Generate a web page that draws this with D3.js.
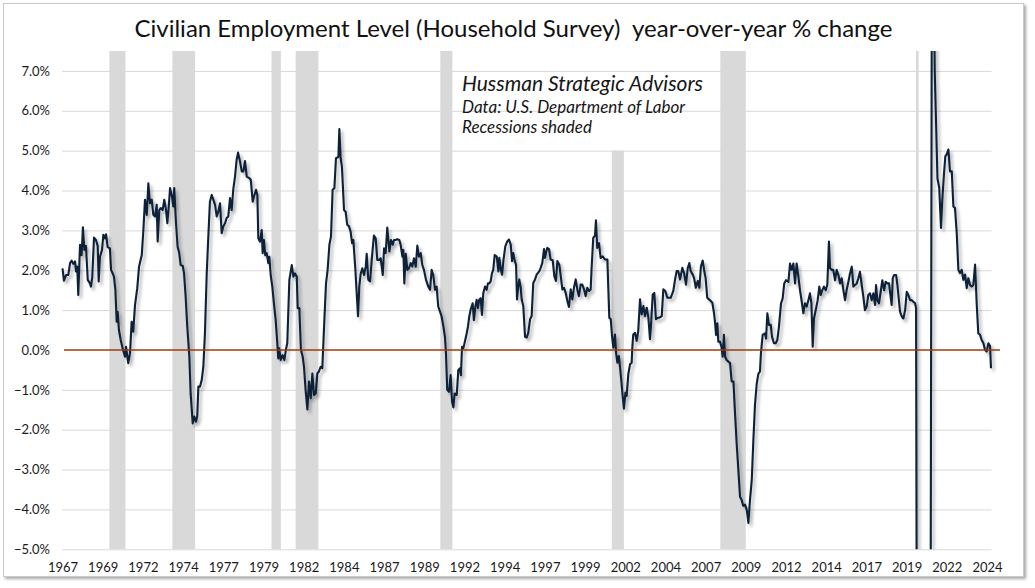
<!DOCTYPE html>
<html><head><meta charset="utf-8">
<script src="https://cdn.jsdelivr.net/npm/d3@7/dist/d3.min.js"></script>
<style>
body{margin:0;background:#fff;}
svg text{font-family:Lato,"Open Sans",sans-serif;}
</style>
</head><body>
<svg id="chart" width="1035" height="588"></svg>
<script>
// ---------- DATA ----------
const titleText = "Civilian Employment Level (Household Survey)  year-over-year % change";
const noteLines = ["Hussman Strategic Advisors", "Data: U.S. Department of Labor", "Recessions shaded"];

// decimal-year dates of the year-over-year % change series
const dates = [
1967.00,1967.09,1967.22,1967.36,1967.47,1967.57,1967.67,1967.78,1967.84,1967.92,1967.98,1968.09,1968.19,1968.27,1968.36,1968.46,1968.57,1968.71,1968.77,1968.85,1968.96,
1969.08,1969.19,1969.25,1969.33,1969.46,1969.54,1969.64,1969.71,1969.81,1969.95,1970.02,1970.12,1970.20,1970.29,1970.37,1970.43,1970.51,1970.62,1970.74,1970.89,1970.95,
1971.09,1971.20,1971.30,1971.40,1971.51,1971.65,1971.76,1971.93,1972.03,1972.13,1972.24,1972.34,1972.44,1972.55,1972.65,1972.75,1972.86,1972.92,
1973.02,1973.11,1973.23,1973.33,1973.44,1973.52,1973.61,1973.69,1973.81,1973.89,1973.95,1974.06,1974.16,1974.26,1974.35,1974.48,1974.56,1974.66,1974.76,1974.89,1974.97,
1975.10,1975.20,1975.30,1975.38,1975.45,1975.55,1975.66,1975.76,1975.86,1975.97,1976.07,1976.17,1976.28,1976.38,1976.49,1976.59,1976.69,1976.80,1976.90,
1977.00,1977.11,1977.21,1977.31,1977.42,1977.52,1977.62,1977.73,1977.83,1977.92,1978.04,1978.15,1978.25,1978.35,1978.46,1978.62,1978.71,1978.83,1978.91,
1979.04,1979.12,1979.18,1979.28,1979.39,1979.45,1979.53,1979.61,1979.70,1979.80,1979.86,1979.95,1980.05,1980.15,1980.26,1980.36,1980.42,1980.48,1980.57,1980.69,1980.80,1980.90,1980.98,
1981.11,1981.26,1981.36,1981.46,1981.57,1981.63,1981.73,1981.83,1981.94,1982.02,1982.12,1982.23,1982.33,1982.44,1982.54,1982.64,1982.75,1982.85,1982.95,
1983.06,1983.16,1983.26,1983.39,1983.49,1983.60,1983.70,1983.80,1983.91,1984.01,1984.16,1984.22,1984.30,1984.38,1984.51,1984.61,1984.71,1984.82,1984.92,
1985.01,1985.09,1985.21,1985.30,1985.38,1985.46,1985.55,1985.65,1985.75,1985.86,1985.92,1986.02,1986.13,1986.25,1986.37,1986.48,1986.58,1986.69,1986.79,1986.92,
1987.00,1987.10,1987.20,1987.33,1987.43,1987.54,1987.62,1987.72,1987.82,1987.95,1988.03,1988.14,1988.20,1988.26,1988.35,1988.45,1988.55,1988.66,1988.76,1988.86,1988.97,
1989.07,1989.17,1989.28,1989.38,1989.48,1989.61,1989.75,1989.86,1989.96,1990.06,1990.17,1990.27,1990.37,1990.48,1990.58,1990.69,1990.79,1990.85,1990.93,
1991.04,1991.14,1991.23,1991.31,1991.39,1991.52,1991.62,1991.72,1991.78,1991.85,1991.93,1992.05,1992.14,1992.22,1992.30,1992.39,1992.51,1992.59,1992.68,1992.76,1992.84,1992.92,
1993.01,1993.09,1993.17,1993.28,1993.38,1993.46,1993.55,1993.63,1993.71,1993.79,1993.88,1994.01,1994.11,1994.17,1994.26,1994.34,1994.42,1994.54,1994.67,1994.77,1994.88,1994.96,
1995.04,1995.13,1995.21,1995.27,1995.35,1995.41,1995.50,1995.56,1995.66,1995.77,1995.87,1995.97,1996.08,1996.18,1996.28,1996.39,1996.49,1996.66,1996.74,1996.84,1996.95,
1997.01,1997.07,1997.15,1997.26,1997.36,1997.49,1997.59,1997.69,1997.78,1997.90,1997.99,1998.09,1998.19,1998.30,1998.40,1998.50,1998.61,1998.71,1998.81,1998.92,
1999.02,1999.12,1999.23,1999.33,1999.44,1999.54,1999.64,1999.75,1999.85,1999.91,2000.01,2000.12,2000.18,2000.26,2000.37,2000.47,2000.60,2000.74,2000.89,2000.95,
2001.01,2001.10,2001.18,2001.26,2001.36,2001.43,2001.51,2001.60,2001.67,2001.76,2001.84,2001.92,2002.01,2002.09,2002.19,2002.30,2002.40,2002.44,2002.50,2002.61,2002.71,2002.81,2002.92,
2003.02,2003.13,2003.23,2003.34,2003.44,2003.54,2003.60,2003.71,2003.81,2003.91,2004.02,2004.12,2004.27,2004.37,2004.49,2004.62,2004.70,2004.83,2004.99,
2005.10,2005.20,2005.30,2005.41,2005.55,2005.66,2005.78,2005.89,2005.99,2006.07,2006.20,2006.28,2006.39,2006.51,2006.61,2006.71,2006.82,2006.90,
2007.00,2007.10,2007.21,2007.32,2007.42,2007.52,2007.59,2007.65,2007.73,2007.79,2007.89,2007.99,2008.06,2008.14,2008.21,2008.31,2008.41,2008.52,2008.62,2008.73,2008.83,2008.93,
2009.03,2009.14,2009.24,2009.34,2009.45,2009.56,2009.66,2009.76,2009.87,2009.97,2010.07,2010.18,2010.28,2010.38,2010.44,2010.55,2010.69,2010.76,2010.84,2010.94,
2011.05,2011.13,2011.25,2011.36,2011.46,2011.56,2011.69,2011.79,2011.89,2012.00,2012.15,2012.25,2012.35,2012.46,2012.56,2012.66,2012.77,2012.87,2012.98,
2013.08,2013.18,2013.29,2013.39,2013.49,2013.58,2013.66,2013.74,2013.87,2013.97,2014.07,2014.16,2014.26,2014.36,2014.47,2014.57,2014.67,2014.74,2014.84,2014.94,
2015.05,2015.15,2015.26,2015.36,2015.46,2015.57,2015.67,2015.77,2015.88,2015.98,2016.09,2016.19,2016.29,2016.40,2016.50,2016.60,2016.71,2016.81,2016.91,
2017.02,2017.12,2017.23,2017.33,2017.43,2017.54,2017.60,2017.68,2017.78,2017.89,2017.99,2018.10,2018.20,2018.30,2018.41,2018.47,2018.57,2018.64,2018.72,2018.85,2018.93,
2019.03,2019.09,2019.20,2019.30,2019.41,2019.51,2019.61,2019.72,2019.82,2019.92,2020.03,2020.09,2020.17,2020.25,2020.34,2020.42,2020.50,2020.59,2020.67,2020.75,2020.84,2020.92,
2021.00,2021.09,2021.17,2021.25,2021.34,2021.42,2021.53,2021.64,2021.72,2021.83,2021.91,2021.99,2022.10,2022.20,2022.31,2022.41,2022.51,2022.62,2022.72,2022.82,2022.93,
2023.03,2023.14,2023.24,2023.34,2023.45,2023.55,2023.65,2023.76,2023.86,2023.96,2024.07,2024.17,2024.28,2024.38,2024.48,2024.59,2024.69,2024.75
];

// year-over-year % change values
const yoy = [
2.05,1.74,1.88,1.88,2.18,2.24,2.16,2.22,1.97,2.09,1.38,2.64,2.38,3.08,2.51,2.61,1.76,1.67,1.59,1.82,2.82,
2.76,2.61,1.72,2.34,2.51,2.89,2.80,2.90,2.58,2.55,2.01,1.92,1.84,1.51,0.71,0.96,0.50,0.25,0.04,-0.17,0.08,
-0.33,-0.08,0.71,0.46,1.13,1.55,2.09,2.38,3.01,3.77,3.39,4.18,3.68,3.77,3.39,3.35,3.64,2.72,
3.51,3.56,3.51,3.77,3.51,3.18,3.60,4.06,3.85,3.60,4.06,3.18,2.59,2.43,2.13,2.11,1.92,1.34,0.59,-0.17,-1.09,
-1.84,-1.67,-1.80,-1.67,-0.92,-0.92,-0.75,-0.42,0.42,1.92,2.85,3.72,3.89,3.77,3.64,3.35,3.47,3.68,2.93,
3.10,3.18,3.31,3.35,3.81,3.51,4.02,4.35,4.77,4.95,4.73,4.48,4.48,4.74,4.35,4.31,4.27,3.72,3.85,
4.02,3.89,2.80,2.72,3.01,2.43,2.76,2.38,2.43,2.18,2.34,1.88,1.59,1.17,0.75,0.17,-0.21,0.04,-0.25,-0.13,-0.25,0.02,0.17,
1.76,2.13,1.84,1.92,1.84,1.05,1.05,0.00,-0.17,-0.42,-1.00,-1.49,-0.79,-1.21,-0.59,-1.13,-1.09,-0.59,-0.54,
-0.42,-0.46,0.50,1.67,2.01,2.64,2.85,4.02,4.06,4.81,4.84,5.54,4.81,4.60,3.51,3.47,3.14,3.10,2.97,
2.68,2.76,2.05,1.42,0.85,1.59,1.92,2.05,1.88,2.09,2.41,1.76,1.72,2.34,2.87,2.80,2.26,2.26,2.30,1.88,
2.55,2.43,3.07,2.47,2.76,2.64,2.76,2.76,2.78,2.76,2.64,2.34,2.51,1.67,2.41,2.01,2.05,2.18,2.09,2.30,2.09,
2.62,2.34,2.43,2.13,2.01,1.76,1.59,1.51,2.01,1.88,1.51,1.59,1.09,0.96,0.84,0.59,0.32,-0.08,-1.00,
-1.05,-0.63,-1.30,-1.44,-1.09,-1.13,-0.50,-0.46,-0.63,0.08,0.04,0.25,0.42,0.59,0.84,1.02,1.17,0.75,1.09,1.26,1.05,1.26,
1.30,0.88,1.42,1.59,1.51,1.67,1.67,1.72,1.92,2.01,2.38,2.34,1.97,2.31,2.02,1.89,2.23,2.60,2.73,2.77,2.64,2.23,
2.43,2.23,2.14,1.27,1.60,1.77,1.56,1.27,1.10,0.33,0.31,0.43,0.77,0.85,1.68,1.77,1.89,1.98,2.06,2.18,2.53,
2.31,2.43,2.56,2.53,2.27,2.25,1.85,1.73,2.23,2.14,1.85,1.52,1.56,1.43,1.23,1.08,1.52,1.27,1.56,1.77,
1.52,1.35,1.64,1.64,1.52,1.35,1.56,1.48,1.52,2.06,2.81,2.87,3.25,2.56,2.68,2.31,2.35,2.27,2.27,1.52,
0.81,0.77,0.35,0.06,0.39,-0.07,-0.32,-0.15,-0.40,-0.78,-1.15,-1.47,-1.07,-1.15,-0.61,-0.36,-0.32,0.06,0.39,0.43,0.23,0.48,1.27,
0.89,1.10,0.85,1.06,0.81,0.27,0.60,1.39,1.43,0.77,0.81,0.81,0.85,1.52,1.48,1.31,1.31,1.31,1.48,
1.77,1.98,1.98,1.77,2.06,1.93,1.64,2.06,2.18,1.98,1.89,1.81,1.56,1.73,1.56,2.10,2.24,2.02,
1.81,1.31,1.27,1.23,1.18,0.93,0.68,0.38,0.67,0.21,0.21,0.08,-0.17,0.38,-0.17,-0.25,-0.29,-0.33,-0.79,-0.79,-1.59,-2.34,
-2.97,-3.68,-3.76,-3.91,-3.88,-4.01,-4.34,-3.76,-3.26,-2.26,-1.38,-0.84,-0.60,-0.54,-0.08,0.38,0.42,0.29,0.92,0.63,
0.63,0.33,0.17,0.17,0.25,0.58,1.17,1.29,1.67,1.75,1.71,2.17,2.01,2.17,1.67,2.17,1.84,1.50,1.21,
0.92,1.17,1.09,1.25,1.42,1.17,0.08,0.79,1.04,1.25,1.59,1.38,1.50,1.59,1.50,1.63,2.72,2.05,2.01,2.01,
1.75,2.01,1.88,1.67,1.80,1.50,1.25,1.50,1.71,1.92,2.09,1.59,1.63,1.67,1.80,1.96,1.63,1.34,1.00,
1.09,1.38,1.42,1.25,1.42,1.13,1.63,1.25,1.17,1.46,1.75,1.50,1.71,1.67,1.67,1.46,1.13,1.80,1.88,1.88,1.63,
1.21,0.96,0.84,0.79,1.00,1.46,1.38,1.25,1.25,1.21,1.17,1.05,-14.8,-12.6,-9.8,-8.6,-6.4,-5.9,-5.5,-5.6,-5.7,-5.4,
-5.4,13.3,10.3,7.0,5.6,4.3,4.07,3.06,3.77,4.44,4.86,4.90,5.03,4.48,4.48,3.60,3.56,2.93,2.01,1.93,2.01,
1.76,1.89,1.55,1.80,1.63,1.59,1.63,2.14,1.17,0.42,0.38,0.25,0.17,0.00,-0.04,0.17,0.10,-0.46
];

// NBER recessions (first and last month) and the height the shading reaches
const recStart = ["1969-12","1973-11","1980-01","1981-07","1990-07","2001-03","2007-12","2020-02"];
const recEnd   = ["1970-11","1975-03","1980-07","1982-11","1991-03","2001-11","2009-06","2020-03"];
const recTop   = [7.5, 7.5, 7.5, 7.5, 7.5, 5.0, 7.5, 7.5];

const xTickLabels = ["1967","1969","1972","1974","1977","1979","1982","1984","1987","1989","1992","1994",
                     "1997","1999","2002","2004","2007","2009","2012","2014","2017","2019","2022","2024"];
const xTickStart = 1967, xTickStep = 2.5;
const yTicks = [-5,-4,-3,-2,-1,0,1,2,3,4,5,6,7];
const yDomain = [-5, 7.5];
const xDomain = [1967, 2024.75];

// ---------- DRAWING ----------
const svg = d3.select("#chart");
const L = 62.5, R = 991, T = 51, B = 549.3;
const x = d3.scaleLinear().domain(xDomain).range([L, R]);
const y = d3.scaleLinear().domain(yDomain).range([B, T]);
const ym = s => { const [a,b] = s.split("-").map(Number); return a + (b-1)/12; };

const defs = svg.append("defs");
const f1 = defs.append("filter").attr("id","frameShadow").attr("x","-5%").attr("y","-5%").attr("width","110%").attr("height","110%");
f1.append("feDropShadow").attr("dx",2).attr("dy",2).attr("stdDeviation",1.6).attr("flood-color","#000").attr("flood-opacity",0.35);
const f2 = defs.append("filter").attr("id","lineShadow").attr("x","-2%").attr("y","-5%").attr("width","104%").attr("height","110%");
f2.append("feDropShadow").attr("dx",2.5).attr("dy",3).attr("stdDeviation",1.4).attr("flood-color","#000").attr("flood-opacity",0.3);
defs.append("clipPath").attr("id","plotClip").append("rect")
  .attr("x", L - 2).attr("y", T).attr("width", 1002 - L).attr("height", B - T);

// frame
svg.append("rect").attr("x",3.5).attr("y",3.5).attr("width",1020).attr("height",573)
  .attr("fill","#fff").attr("stroke","#c9c9c9").attr("stroke-width",1).attr("filter","url(#frameShadow)");

// title
svg.append("text").attr("x",513.5).attr("y",37).attr("text-anchor","middle")
  .style("white-space","pre").attr("font-size",24).attr("fill","#111")
  .text(titleText);

// gridlines (via axis)
svg.append("g").attr("transform",`translate(${L - 0.5},0)`)
  .call(d3.axisLeft(y).tickValues(yTicks.filter(v => v !== 0)).tickSize(-(R + 1 - L)).tickFormat(""))
  .call(g => g.select(".domain").remove())
  .call(g => g.selectAll("line").attr("stroke","#d9d9d9").attr("stroke-width",1));

// recession shading
const plot = svg.append("g").attr("clip-path","url(#plotClip)");
plot.selectAll("rect.rec").data(recStart).join("rect").attr("class","rec")
  .attr("x", (d,i) => x(ym(d)))
  .attr("width", (d,i) => x(ym(recEnd[i]) + 1/12) - x(ym(d)))
  .attr("y", (d,i) => y(recTop[i]))
  .attr("height", (d,i) => y(yDomain[0]) - y(recTop[i]))
  .attr("fill","#d9d9d9");

// y labels
svg.append("g").attr("transform","translate(50,0)")
  .call(d3.axisLeft(y).tickValues(yTicks).tickSize(0).tickPadding(0).tickFormat(v => d3.format(".1f")(v) + "%"))
  .call(g => g.select(".domain").remove())
  .call(g => g.selectAll("text").attr("font-size",13).attr("fill","#1a1a1a").attr("font-family","Lato"));

// x labels
const xTickVals = xTickLabels.map((d,i) => xTickStart + i * xTickStep);
svg.append("g").attr("transform",`translate(0,${B})`)
  .call(d3.axisBottom(x).tickValues(xTickVals).tickSize(0).tickPadding(13).tickFormat((d,i) => xTickLabels[i]))
  .call(g => g.select(".domain").remove())
  .call(g => g.selectAll("text").attr("font-size",13).attr("fill","#1a1a1a").attr("font-family","Lato"));

// series line
const series = dates.map((d,i) => [d, yoy[i]]);
plot.append("path").datum(series)
  .attr("d", d3.line().x(d => x(d[0])).y(d => y(d[1])))
  .attr("fill","none").attr("stroke","#0d2038").attr("stroke-width",2.1)
  .attr("stroke-linejoin","round").attr("filter","url(#lineShadow)");

// zero line
svg.append("line").attr("x1",64).attr("x2",1000).attr("y1",y(0)).attr("y2",y(0))
  .attr("stroke","#9e3b0d").attr("stroke-width",1.4);

// notes
const noteSizes = [21, 17, 17], noteY = [91, 113, 133];
noteLines.forEach((t,i) => {
  svg.append("text").attr("x",462).attr("y",noteY[i]).attr("font-size",noteSizes[i])
    .attr("font-style","italic").attr("fill","#161616").text(t);
});
</script>
</body></html>
